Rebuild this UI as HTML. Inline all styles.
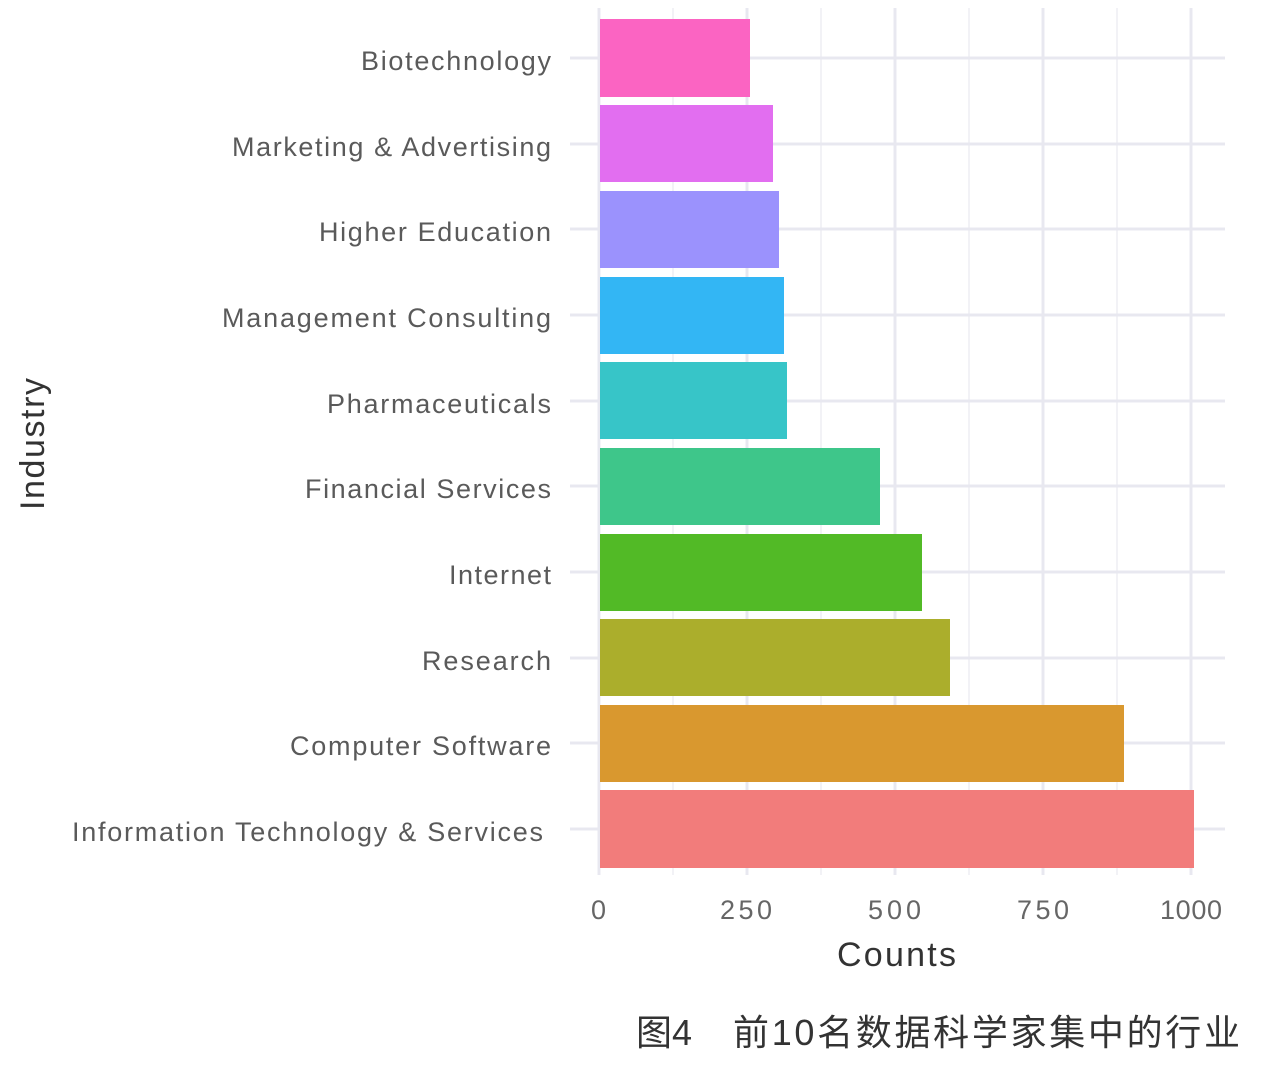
<!DOCTYPE html>
<html><head><meta charset="utf-8"><style>
body{margin:0;background:#fff;}
svg text{font-family:"Liberation Sans","Noto Sans CJK SC",sans-serif;}
</style></head><body>
<svg width="1274" height="1080" xmlns="http://www.w3.org/2000/svg">
<rect width="1274" height="1080" fill="#fff"/>
<g stroke="#eeeef4" stroke-width="1.5">
<line x1="673" y1="8" x2="673" y2="875"/><line x1="821" y1="8" x2="821" y2="875"/><line x1="969" y1="8" x2="969" y2="875"/><line x1="1117" y1="8" x2="1117" y2="875"/>
</g>
<g stroke="#e8e8f0" stroke-width="3">
<line x1="599" y1="8" x2="599" y2="875"/><line x1="747" y1="8" x2="747" y2="875"/><line x1="895" y1="8" x2="895" y2="875"/><line x1="1043" y1="8" x2="1043" y2="875"/><line x1="1191" y1="8" x2="1191" y2="875"/>
<line x1="570" y1="58" x2="1225" y2="58"/><line x1="570" y1="144" x2="1225" y2="144"/><line x1="570" y1="229" x2="1225" y2="229"/><line x1="570" y1="315" x2="1225" y2="315"/><line x1="570" y1="401" x2="1225" y2="401"/><line x1="570" y1="486" x2="1225" y2="486"/><line x1="570" y1="572" x2="1225" y2="572"/><line x1="570" y1="658" x2="1225" y2="658"/><line x1="570" y1="743" x2="1225" y2="743"/><line x1="570" y1="829" x2="1225" y2="829"/>
</g>
<rect x="600" y="19" width="150" height="78" fill="#fb64c2"/>
<rect x="600" y="105" width="173" height="77" fill="#e26ef0"/>
<rect x="600" y="191" width="179" height="77" fill="#9b92fd"/>
<rect x="600" y="277" width="184" height="77" fill="#33b6f4"/>
<rect x="600" y="362" width="187" height="77" fill="#37c5c8"/>
<rect x="600" y="448" width="280" height="77" fill="#3ec68a"/>
<rect x="600" y="534" width="322" height="77" fill="#52ba26"/>
<rect x="600" y="619" width="350" height="77" fill="#abae2c"/>
<rect x="600" y="705" width="524" height="77" fill="#d9982f"/>
<rect x="600" y="790" width="594" height="78" fill="#f27c7b"/>
<g font-size="27" fill="#5a5a5a" lengthAdjust="spacing">
<text x="361" y="70" textLength="190">Biotechnology</text>
<text x="232" y="156" textLength="319">Marketing &amp; Advertising</text>
<text x="319" y="241" textLength="232">Higher Education</text>
<text x="222" y="327" textLength="329">Management Consulting</text>
<text x="327" y="413" textLength="224">Pharmaceuticals</text>
<text x="305" y="498" textLength="246">Financial Services</text>
<text x="449" y="584" textLength="102">Internet</text>
<text x="422" y="670" textLength="129">Research</text>
<text x="290" y="755" textLength="261">Computer Software</text>
<text x="72" y="841" textLength="471">Information Technology &amp; Services</text>
</g>
<g font-size="27" fill="#666">
<text x="591" y="919" textLength="16">0</text><text x="720" y="919" textLength="52">250</text><text x="868" y="919" textLength="53">500</text><text x="1017" y="919" textLength="52">750</text><text x="1160" y="919" textLength="62">1000</text>
</g>
<text x="837" y="966" font-size="34" fill="#333" textLength="119">Counts</text>
<text transform="translate(44,510) rotate(-90)" font-size="34" fill="#333" textLength="132">Industry</text>
<text x="636" y="1045" font-size="36" fill="#333" textLength="56">图4</text>
<text x="733" y="1045" font-size="36" fill="#333" textLength="507">前10名数据科学家集中的行业</text>
</svg>
</body></html>
